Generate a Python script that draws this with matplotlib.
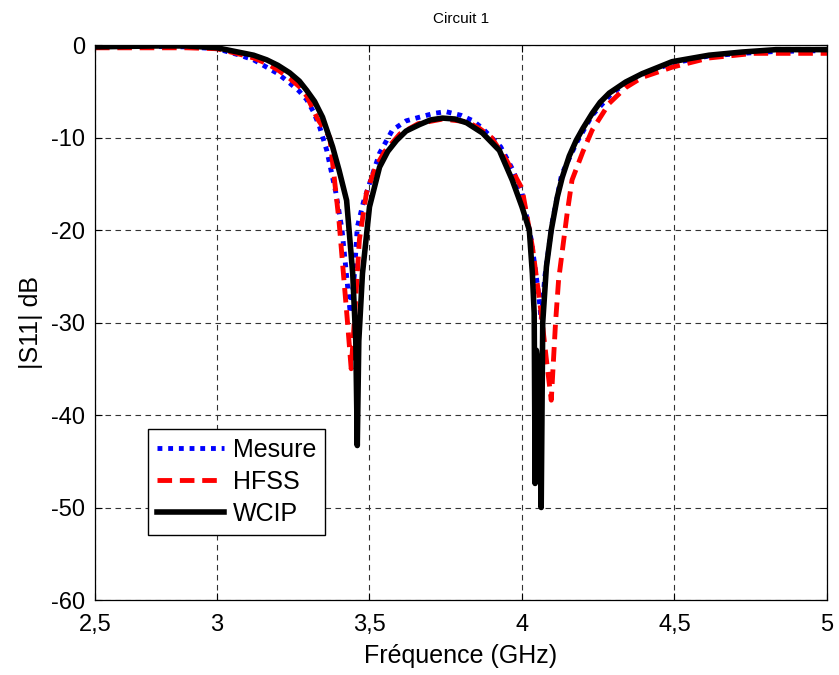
import matplotlib
matplotlib.use('Agg')
import matplotlib.pyplot as plt

matplotlib.rcParams.update({'font.family': ['Liberation Sans', 'DejaVu Sans'], 'font.size': 17,
                            'axes.unicode_minus': False})

# values (GHz, dB)
mesure_f = [2.6, 2.9, 3.0, 3.075, 3.12, 3.163, 3.2, 3.238, 3.27, 3.294, 3.316, 3.336, 3.36, 3.39,
            3.41, 3.425, 3.437, 3.45, 3.46, 3.48, 3.50, 3.533, 3.575, 3.62, 3.664, 3.71, 3.75,
            3.80, 3.84, 3.87, 3.93, 3.97, 4.00, 4.03, 4.055, 4.063, 4.075, 4.10, 4.13, 4.18,
            4.23, 4.29, 4.34, 4.39, 4.49, 4.61, 4.72, 4.83, 5.0]
mesure_db = [-0.1, -0.2, -0.4, -1.1, -1.6, -2.4, -3.1, -4.1, -5.0, -5.9, -7.2, -8.8, -11.4, -16,
             -20, -25, -29, -25, -19.7, -17, -15, -11.7, -9.2, -8.2, -7.8, -7.4, -7.2,
             -7.6, -8.2, -9, -11, -13.5, -16, -21, -27, -29.7, -25, -19, -14, -10.5,
             -7.6, -5.4, -4.1, -3.2, -2.0, -1.2, -0.9, -0.7, -0.6]

hfss_f = [2.6, 2.9, 3.0, 3.075, 3.12, 3.163, 3.2, 3.238, 3.27, 3.294, 3.33, 3.37, 3.40, 3.428,
          3.440, 3.45, 3.467, 3.49, 3.52, 3.55, 3.60, 3.66, 3.74, 3.82, 3.86, 3.90, 3.95,
          4.00, 4.034, 4.063, 4.08, 4.096, 4.11, 4.12, 4.148, 4.164, 4.20, 4.23, 4.286,
          4.34, 4.394, 4.492, 4.613, 4.76, 5.0]
hfss_db = [-0.3, -0.3, -0.4, -1.0, -1.4, -2.0, -2.7, -3.6, -4.5, -5.5, -8, -10, -19, -30,
           -35, -30, -21, -16, -13.2, -11.5, -9.6, -8.5, -8.0, -8.3, -9.0, -10, -12.5,
           -15.5, -21.8, -29, -34, -38.4, -30, -25.4, -18.2, -14.6, -11.5, -9.2, -6.3,
           -4.6, -3.5, -2.4, -1.4, -0.9, -0.9]

wcip_f = [2.6, 2.8, 2.9, 3.0, 3.075, 3.12, 3.163, 3.2, 3.238, 3.27, 3.294, 3.32, 3.346, 3.379,
          3.40, 3.425, 3.445, 3.455, 3.460, 3.465, 3.477, 3.500, 3.533, 3.56, 3.589, 3.62,
          3.664, 3.70, 3.739, 3.78, 3.818, 3.87, 3.926, 3.968, 4.00, 4.024, 4.034, 4.040,
          4.043, 4.047, 4.055, 4.063, 4.068, 4.080, 4.096, 4.116, 4.132, 4.155, 4.178, 4.20,
          4.230, 4.256, 4.286, 4.34, 4.394, 4.492, 4.613, 4.721, 4.832, 5.0]
wcip_db = [-0.2, -0.1, -0.1, -0.3, -0.8, -1.1, -1.6, -2.2, -3.0, -3.9, -4.9, -6.1, -7.8, -11.0,
           -13.5, -16.8, -24.7, -32, -43.3, -32, -24.7, -17.5, -13.2, -11.5, -10.3, -9.3,
           -8.6, -8.1, -7.9, -8.0, -8.4, -9.5, -11.4, -14.6, -17.5, -20, -24.7, -29,
           -47.4, -33, -35, -50, -30, -24, -20, -16.4, -14.3, -12.0, -10.3, -9.0,
           -7.4, -6.2, -5.2, -4.0, -3.1, -1.8, -1.1, -0.76, -0.5, -0.5]

tick_pos = [2.6, 3, 3.5, 4, 4.5, 5]
tick_lab = ['2,5', '3', '3,5', '4', '4,5', '5']

fig = plt.figure(figsize=(8.39, 6.75), dpi=100)
ax = fig.add_axes([0.1132, 0.1111, 0.8725, 0.8222])

ax.plot(mesure_f, mesure_db, color='#0000ff', linestyle=(0, (1, 1.2)), linewidth=3.5, label='Mesure')
ax.plot(hfss_f, hfss_db, color='#ff0000', linestyle=(0, (3, 1.6)), linewidth=3.5, label='HFSS')
ax.plot(wcip_f, wcip_db, color='#000000', linestyle='-', linewidth=4, label='WCIP')

ax.set_xlim(2.6, 5)
ax.set_ylim(-60, 0)
ax.set_xticks(tick_pos, tick_lab)
ax.set_yticks([0, -10, -20, -30, -40, -50, -60])
ax.tick_params(direction='in', length=5, width=0.8, top=True, right=True)
ax.tick_params(axis='x', pad=10)
ax.tick_params(axis='y', pad=7)
ax.grid(True, color='#333333', linestyle=(0, (5, 4)), linewidth=0.8)
for s in ax.spines.values():
    s.set_linewidth(0.9)

ax.set_xlabel('Fréquence (GHz)', fontsize=18, labelpad=6)
ax.set_ylabel('|S11| dB', fontsize=18, labelpad=6)
ax.set_title('Circuit 1', fontsize=11, pad=16)

leg = ax.legend(loc='lower left', bbox_to_anchor=(0.072, 0.118), borderaxespad=0,
                fontsize=18, fancybox=False, edgecolor='black', framealpha=1, handlelength=2.7,
                labelspacing=0.32, borderpad=0.36, handletextpad=0.35)
leg.get_frame().set_linewidth(1.0)

plt.savefig('out.png', dpi=100)
